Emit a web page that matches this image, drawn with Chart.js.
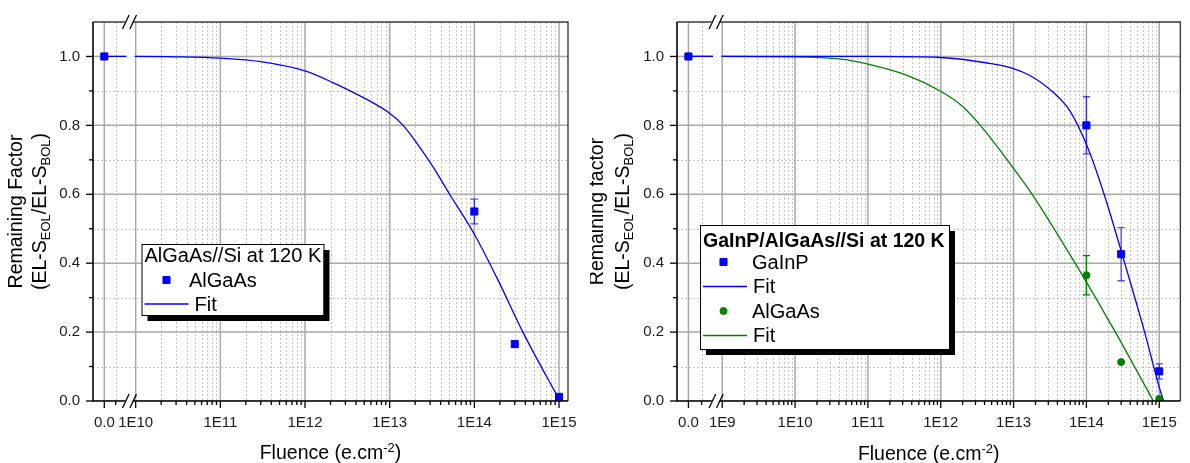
<!DOCTYPE html>
<html>
<head>
<meta charset="utf-8">
<script src="https://cdn.jsdelivr.net/npm/chart.js@4.4.1/dist/chart.umd.min.js"></script>
<style>
  html, body { margin: 0; padding: 0; background: #fff; }
  .panel { position: absolute; top: 0; height: 463px; }
  #left { left: 0; width: 590px; }
  #right { left: 590px; width: 600px; }
</style>
</head>
<body>
<div class="panel" id="left"><canvas id="leftChart" width="590" height="463"></canvas></div>
<div class="panel" id="right"><canvas id="rightChart" width="600" height="463"></canvas></div>
<script>
// ---- data: left panel, AlGaAs//Si at 120 K ----
const leftFluence = [0, 1e14, 3e14, 1e15];
const leftAlGaAs = [1.0, 0.55, 0.165, 0.012];
const leftAlGaAsErr = [0, 0.036, 0, 0];
const leftFitFluence = [0, 1e10, 3e10, 1e11, 3e11, 1e12, 2.1e12, 5.3e12, 1e13, 1.44e13, 2.07e13, 3.24e13, 5.1e13, 1e14, 2e14, 3.74e14, 1e15];
const leftFitValues = [1.0, 1.0, 0.999, 0.995, 0.985, 0.958, 0.925, 0.876, 0.835, 0.800, 0.750, 0.680, 0.600, 0.484, 0.340, 0.200, 0.005];
const leftDecades = [10, 11, 12, 13, 14, 15];

// ---- data: right panel, GaInP/AlGaAs//Si at 120 K ----
const rightFluence = [0, 1e14, 3e14, 1e15];
const rightGaInP = [1.0, 0.80, 0.426, 0.086];
const rightGaInPErr = [0, 0.083, 0.077, 0.022];
const rightAlGaAs = [1.0, 0.365, 0.113, 0.006];
const rightAlGaAsErr = [0, 0.057, 0, 0];
const gainpFitFluence = [0, 1e9, 1e10, 1e11, 1e12, 4.4e12, 1e13, 1.7e13, 3.5e13, 5.9e13, 1e14, 1.75e14, 3.36e14, 6.3e14, 1e15, 1.15e15];
const gainpFitValues = [1.0, 1.0, 1.0, 1.0, 0.997, 0.981, 0.965, 0.944, 0.896, 0.843, 0.745, 0.600, 0.400, 0.200, 0.040, 0.0];
const algaasFitFluence = [0, 1e9, 1e10, 4.3e10, 1e11, 3.4e11, 1e12, 2e12, 3.5e12, 1e13, 1.8e13, 7e13, 2.5e14, 8.3e14];
const algaasFitValues = [1.0, 1.0, 0.999, 0.992, 0.978, 0.946, 0.899, 0.855, 0.80, 0.675, 0.60, 0.40, 0.20, 0.0];
const rightDecades = [9, 10, 11, 12, 13, 14, 15];

const yTicks = [0, 0.2, 0.4, 0.6, 0.8, 1.0];
const yMinorTicks = [0.1, 0.3, 0.5, 0.7, 0.9];

// broken log axis: segment with 0, then log10 decades
const leftAxis = { min: 9.496, max: 15.106, zero: 9.6295, segMinor: 9.764, brk: 9.927, decades: leftDecades };
const rightAxis = { min: 8.379, max: 15.29, zero: 8.536, segMinor: 8.717, brk: 8.916, decades: rightDecades };

const FONT = '"Liberation Sans", Arial, Helvetica, sans-serif';
const BLUE = '#0000ff';
const GREEN = '#008000';

function xPos(f, axis) { return f === 0 ? axis.zero : Math.log10(f); }
function toPoints(fl, vals, axis) { return fl.map((f, i) => ({ x: xPos(f, axis), y: vals[i] })); }

function minorX(axis) {
  const out = [axis.segMinor];
  axis.decades.forEach(d => {
    for (let k = 2; k <= 9; k++) {
      const v = d + Math.log10(k);
      if (v < axis.max) out.push(v);
    }
  });
  return out;
}

function drawRich(ctx, parts, x, y, size) {
  // parts: [text, mode] mode: 0 normal, 1 sub, -1 sup ; centered on x
  const small = Math.round(size * 0.68);
  let total = 0;
  parts.forEach(p => { ctx.font = (p[1] ? small : size) + 'px ' + FONT; total += ctx.measureText(p[0]).width; });
  let cx = x - total / 2;
  ctx.textAlign = 'left';
  ctx.textBaseline = 'alphabetic';
  parts.forEach(p => {
    ctx.font = (p[1] ? small : size) + 'px ' + FONT;
    const dy = p[1] === 1 ? 4 : p[1] === -1 ? -7 : 0;
    ctx.fillText(p[0], cx, y + dy);
    cx += ctx.measureText(p[0]).width;
  });
}

const panelDecor = {
  id: 'panelDecor',
  beforeDatasetsDraw(chart, args, opts) {
    const { ctx, chartArea: a, scales: { x, y } } = chart;
    const ax = opts.axis;
    ctx.save();
    ctx.beginPath();
    ctx.rect(a.left, a.top, a.width, a.height);
    ctx.clip();
    const vline = px => { ctx.beginPath(); ctx.moveTo(px, a.top); ctx.lineTo(px, a.bottom); ctx.stroke(); };
    const hline = py => { ctx.beginPath(); ctx.moveTo(a.left, py); ctx.lineTo(a.right, py); ctx.stroke(); };
    // minor dotted grid
    ctx.strokeStyle = '#c6c6c6';
    ctx.lineWidth = 1;
    ctx.setLineDash([2, 2]);
    minorX(ax).forEach(v => vline(Math.round(x.getPixelForValue(v)) + 0.5));
    yMinorTicks.forEach(v => hline(Math.round(y.getPixelForValue(v)) + 0.5));
    // major solid grid
    ctx.setLineDash([]);
    ctx.strokeStyle = '#a9a9a9';
    ctx.lineWidth = 1.5;
    [ax.zero, ...ax.decades].forEach(v => vline(x.getPixelForValue(v)));
    yTicks.forEach(v => hline(y.getPixelForValue(v)));
    // error bars
    opts.errorBars.forEach(eb => {
      const meta = chart.getDatasetMeta(eb.dataset);
      ctx.strokeStyle = eb.color;
      ctx.lineWidth = 1.3;
      meta.data.forEach((pt, i) => {
        const e = eb.errs[i];
        if (!e) return;
        const v = chart.data.datasets[eb.dataset].data[i].y;
        const y1 = y.getPixelForValue(v + e), y2 = y.getPixelForValue(v - e);
        ctx.beginPath();
        ctx.moveTo(pt.x, y1); ctx.lineTo(pt.x, y2);
        ctx.moveTo(pt.x - 3.7, y1); ctx.lineTo(pt.x + 3.7, y1);
        ctx.moveTo(pt.x - 3.7, y2); ctx.lineTo(pt.x + 3.7, y2);
        ctx.stroke();
      });
    });
    ctx.restore();
  },
  afterDatasetsDraw(chart, args, opts) {
    const { ctx, chartArea: a, scales: { x, y } } = chart;
    const ax = opts.axis;
    ctx.save();
    const bx = x.getPixelForValue(ax.brk);
    // fit lines are interrupted at the axis break
    chart.data.datasets.forEach(ds => {
      if (!ds.showLine) return;
      const py = y.getPixelForValue(ds.data[0].y);
      ctx.fillStyle = '#fff';
      ctx.fillRect(bx - 3, py - 2, 8, 4);
    });
    // frame
    ctx.strokeStyle = '#3a3a3a';
    ctx.lineWidth = 1.4;
    ctx.beginPath();
    ctx.moveTo(a.left, a.top); ctx.lineTo(a.right, a.top); ctx.lineTo(a.right, a.bottom);
    ctx.stroke();
    ctx.strokeStyle = '#000';
    ctx.lineWidth = 1.6;
    ctx.beginPath();
    ctx.moveTo(a.left, a.top); ctx.lineTo(a.left, a.bottom); ctx.lineTo(a.right, a.bottom);
    ctx.stroke();
    // tick marks
    ctx.lineWidth = 1.3;
    const xt = (v, len) => { const px = x.getPixelForValue(v); ctx.beginPath(); ctx.moveTo(px, a.bottom); ctx.lineTo(px, a.bottom + len); ctx.stroke(); };
    const yt = (v, len) => { const py = y.getPixelForValue(v); ctx.beginPath(); ctx.moveTo(a.left, py); ctx.lineTo(a.left - len, py); ctx.stroke(); };
    [ax.zero, ...ax.decades].forEach(v => xt(v, 7));
    minorX(ax).forEach(v => xt(v, 4));
    yTicks.forEach(v => yt(v, 7));
    yMinorTicks.forEach(v => yt(v, 4));
    // axis break marks
    [a.top, a.bottom].forEach(by => {
      ctx.fillStyle = '#fff';
      ctx.beginPath();
      ctx.moveTo(bx - 3.7 - 3.3, by + 3); ctx.lineTo(bx - 3.7 + 3.3 - 1.4, by - 3);
      ctx.lineTo(bx + 3.7 + 3.3 - 1.4, by - 3); ctx.lineTo(bx + 3.7 - 3.3, by + 3);
      ctx.closePath();
      ctx.fill();
      ctx.strokeStyle = '#000';
      ctx.lineWidth = 1.3;
      [-3.7, 3.7].forEach(o => {
        ctx.beginPath();
        ctx.moveTo(bx + o - 3.3, by + 7); ctx.lineTo(bx + o + 3.3, by - 7);
        ctx.stroke();
      });
    });
    // legend
    const lg = opts.legend;
    ctx.fillStyle = '#000';
    ctx.fillRect(lg.x + 6, lg.y + 6, lg.w, lg.h);
    ctx.fillStyle = '#fff';
    ctx.fillRect(lg.x, lg.y, lg.w, lg.h);
    ctx.strokeStyle = '#000';
    ctx.lineWidth = 1;
    ctx.strokeRect(lg.x + 0.5, lg.y + 0.5, lg.w, lg.h);
    ctx.fillStyle = '#000';
    ctx.textAlign = 'left';
    ctx.textBaseline = 'alphabetic';
    ctx.font = (lg.bold ? 'bold 19.5px ' : '20px ') + FONT;
    ctx.fillText(lg.title, lg.x + 3, lg.y + lg.titleDy);
    ctx.font = '20px ' + FONT;
    chart.data.datasets.forEach((ds, i) => {
      const base = lg.y + lg.rowDy + i * lg.rowStep;
      const my = base - 6.5;
      if (ds.showLine) {
        ctx.strokeStyle = ds.borderColor;
        ctx.lineWidth = 1.3;
        ctx.beginPath(); ctx.moveTo(lg.x + 3, my); ctx.lineTo(lg.x + 47, my); ctx.stroke();
        ctx.fillStyle = '#000';
        ctx.fillText(ds.label, lg.x + 53, base);
      } else {
        ctx.fillStyle = ds.backgroundColor;
        ctx.strokeStyle = ds.borderColor;
        ctx.lineWidth = ds.borderWidth;
        Chart.helpers.drawPoint(ctx, { pointStyle: ds.pointStyle, radius: ds.pointRadius, rotation: 0, borderWidth: ds.borderWidth }, lg.x + lg.markerDx, my);
        ctx.fillStyle = '#000';
        ctx.fillText(ds.label, lg.x + lg.markerTextDx, base);
      }
    });
    // axis titles
    ctx.fillStyle = '#000';
    drawRich(ctx, [['Fluence (e.cm', 0], ['-2', -1], [')', 0]], (a.left + a.right) / 2, opts.xTitleY, 19.5);
    const cy = (a.top + a.bottom) / 2;
    ctx.save();
    ctx.translate(opts.yTitleX[0], cy);
    ctx.rotate(-Math.PI / 2);
    drawRich(ctx, [[opts.yTitle, 0]], 0, 0, 19.5);
    ctx.restore();
    ctx.save();
    ctx.translate(opts.yTitleX[1], cy);
    ctx.rotate(-Math.PI / 2);
    drawRich(ctx, [['(EL-S', 0], ['EOL', 1], ['/EL-S', 0], ['BOL', 1], [')', 0]], 0, 0, 19.5);
    ctx.restore();
    ctx.restore();
  }
};

function makeScales(axis, yWidth) {
  const tickFont = { family: FONT, size: 15 };
  return {
    x: {
      type: 'linear', min: axis.min, max: axis.max,
      afterBuildTicks: s => { s.ticks = [axis.zero, ...axis.decades].map(v => ({ value: v })); },
      afterFit: s => { s.height = 62; },
      grid: { display: false, drawTicks: false },
      border: { display: false },
      ticks: {
        autoSkip: false, maxRotation: 0, padding: 13, color: '#1a1a1a', font: tickFont,
        callback: v => v === axis.zero ? '0.0' : '1E' + v
      }
    },
    y: {
      type: 'linear', min: 0, max: 1.1,
      afterBuildTicks: s => { s.ticks = yTicks.map(v => ({ value: v })); },
      afterFit: s => { s.width = yWidth; },
      grid: { display: false, drawTicks: false },
      border: { display: false },
      ticks: { padding: 13, color: '#1a1a1a', font: tickFont, callback: v => v.toFixed(1) }
    }
  };
}

const pointSet = (label, data, style, radius, color) => ({
  label, data, pointStyle: style, pointRadius: radius, backgroundColor: color, borderColor: color,
  borderWidth: 1, showLine: false, order: 0
});
const fitSet = (data, color) => ({
  label: 'Fit', data, showLine: true, pointRadius: 0, borderColor: color, borderWidth: 1.3,
  cubicInterpolationMode: 'monotone', order: 1
});

new Chart(document.getElementById('leftChart').getContext('2d'), {
  type: 'scatter',
  data: {
    datasets: [
      pointSet('AlGaAs', toPoints(leftFluence, leftAlGaAs, leftAxis), 'rect', 5, BLUE),
      fitSet(toPoints(leftFitFluence, leftFitValues, leftAxis), BLUE)
    ]
  },
  options: {
    responsive: false, animation: false,
    layout: { padding: { top: 20, right: 22, left: 0, bottom: 0 } },
    scales: makeScales(leftAxis, 93),
    plugins: {
      legend: { display: false }, tooltip: { enabled: false },
      panelDecor: {
        axis: leftAxis,
        errorBars: [{ dataset: 0, errs: leftAlGaAsErr, color: 'rgba(0,0,255,0.7)' }],
        legend: { x: 141.5, y: 244, w: 182, h: 71, bold: false, title: 'AlGaAs//Si at 120 K', titleDy: 17.5, rowDy: 42.5, rowStep: 24, markerDx: 25, markerTextDx: 47.5 },
        xTitleY: 459, yTitle: 'Remaining Factor', yTitleX: [21.5, 46]
      }
    }
  },
  plugins: [panelDecor]
});

new Chart(document.getElementById('rightChart').getContext('2d'), {
  type: 'scatter',
  data: {
    datasets: [
      pointSet('GaInP', toPoints(rightFluence, rightGaInP, rightAxis), 'rect', 5, BLUE),
      fitSet(toPoints(gainpFitFluence, gainpFitValues, rightAxis), BLUE),
      pointSet('AlGaAs', toPoints(rightFluence, rightAlGaAs, rightAxis), 'circle', 3.5, GREEN),
      fitSet(toPoints(algaasFitFluence, algaasFitValues, rightAxis), GREEN)
    ]
  },
  options: {
    responsive: false, animation: false,
    layout: { padding: { top: 19, right: 1, left: 0, bottom: 0 } },
    scales: makeScales(rightAxis, 87),
    plugins: {
      legend: { display: false }, tooltip: { enabled: false },
      panelDecor: {
        axis: rightAxis,
        errorBars: [
          { dataset: 0, errs: rightGaInPErr, color: 'rgba(0,0,255,0.7)' },
          { dataset: 2, errs: rightAlGaAsErr, color: GREEN }
        ],
        legend: { x: 110, y: 225, w: 249, h: 124, bold: true, title: 'GaInP/AlGaAs//Si at 120 K', titleDy: 21.5, rowDy: 43.5, rowStep: 24.5, markerDx: 23.5, markerTextDx: 52 },
        xTitleY: 460, yTitle: 'Remaining factor', yTitleX: [12.5, 38.5]
      }
    }
  },
  plugins: [panelDecor]
});
</script>
</body>
</html>
